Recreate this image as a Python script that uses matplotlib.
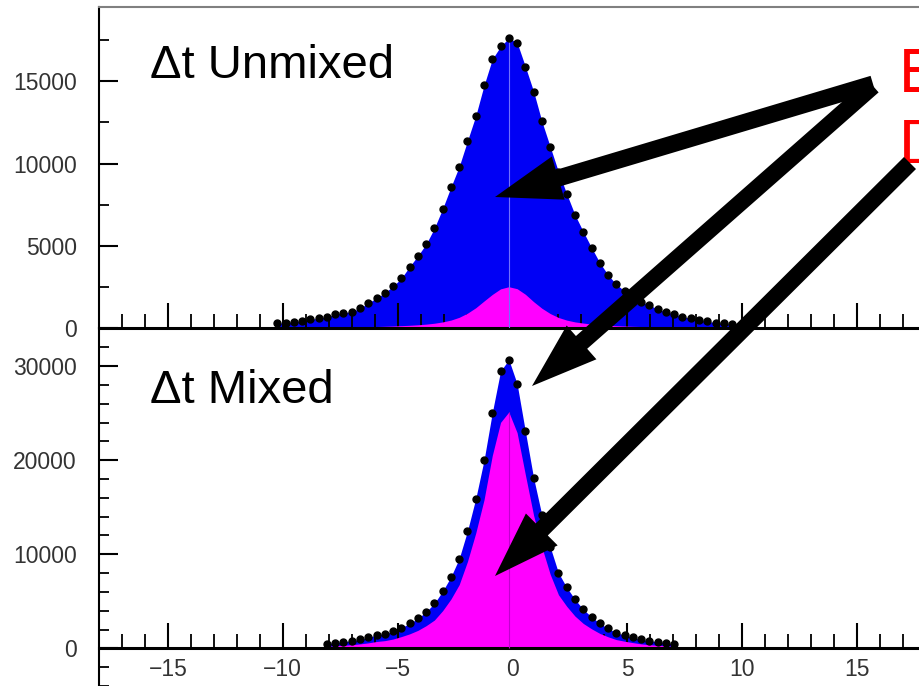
import numpy as np
import matplotlib
matplotlib.use("Agg")
import matplotlib.pyplot as plt
from matplotlib.ticker import MultipleLocator, FixedLocator
from matplotlib.patches import FancyArrow

plt.rcParams['font.family'] = ['Liberation Sans', 'DejaVu Sans']

# ---------------- data ----------------
# Delta t bin centres (ps) of the unmixed histogram
unmixed_dt = [-10.24, -9.88, -9.52, -9.16, -8.80, -8.44, -8.08, -7.72, -7.36, -7.00,
              -6.64, -6.28, -5.92, -5.56, -5.20, -4.84, -4.48, -4.12, -3.76, -3.40,
              -3.04, -2.68, -2.32, -1.96, -1.60, -1.24, -0.88, -0.52, -0.16, 0.20,
              0.56, 0.92, 1.28, 1.64, 2.00, 2.36, 2.72, 3.08, 3.44, 3.80,
              4.16, 4.52, 4.88, 5.24, 5.60, 5.96, 6.32, 6.68, 7.04, 7.40,
              7.76, 8.12, 8.48, 8.84, 9.20, 9.56]
unmixed_total = [290, 320, 380, 430, 530, 590, 690, 830, 930, 990,
                 1200, 1520, 1820, 2140, 2540, 3020, 3730, 4390, 5100, 6070,
                 7260, 8570, 9820, 11380, 12900, 14750, 16350, 17120, 17630, 17360,
                 15900, 14380, 12560, 11030, 9500, 8160, 6880, 5860, 4890, 3970,
                 3230, 2650, 2250, 1900, 1600, 1400, 1140, 990, 850, 690,
                 590, 480, 400, 330, 280, 230]
unmixed_comp = [20, 22, 25, 28, 32, 36, 40, 46, 52, 60,
                68, 78, 90, 105, 122, 142, 165, 195, 235, 290,
                370, 480, 650, 900, 1230, 1640, 2040, 2380, 2510, 2390,
                2050, 1600, 1200, 880, 640, 480, 370, 300, 240, 200,
                165, 140, 120, 103, 90, 78, 68, 60, 52, 46,
                40, 36, 32, 28, 25, 22]

# Delta t bin centres (ps) of the mixed histogram
mixed_dt = [-8.08, -7.72, -7.36, -7.00, -6.64, -6.28, -5.92, -5.56, -5.20, -4.84,
            -4.48, -4.12, -3.76, -3.40, -3.04, -2.68, -2.32, -1.96, -1.60, -1.24,
            -0.88, -0.52, -0.16, 0.20, 0.56, 0.92, 1.28, 1.64, 2.00, 2.36,
            2.72, 3.08, 3.44, 3.80, 4.16, 4.52, 4.88, 5.24, 5.60, 5.96,
            6.32, 6.68, 7.04]
mixed_total = [460, 600, 700, 810, 950, 1170, 1410, 1550, 1800, 2190,
               2650, 3180, 3890, 4780, 6080, 7600, 9550, 12480, 15920, 19990,
               25050, 29470, 30680, 28130, 23070, 18110, 14150, 10790, 8030, 6480,
               5200, 4140, 3350, 2650, 2120, 1660, 1410, 1170, 950, 810,
               700, 590, 460]
mixed_comp = [210, 275, 330, 390, 475, 585, 730, 820, 990, 1250,
              1540, 1910, 2410, 3010, 4010, 5240, 6780, 9240, 12260, 15790,
              20500, 24020, 25120, 22930, 18460, 14130, 10750, 7880, 5700, 4470,
              3430, 2650, 2080, 1590, 1230, 930, 760, 610, 475, 390,
              330, 270, 210]

panel_labels = ["\u0394t Unmixed", "\u0394t Mixed"]
red_labels = ["E", "D"]

# ---------------- figure ----------------
W, H = 920, 686
fig = plt.figure(figsize=(W / 100, H / 100), dpi=100)

def fx(px):
    return px / W

def fy(py):
    return 1 - py / H

ax1 = fig.add_axes([fx(99), fy(328), (926 - 99) / W, (328 - 7) / H])
ax2 = fig.add_axes([fx(99), 0, (926 - 99) / W, (H - 328) / H])

BLUE = '#0000f5'
MAG = '#ff00ff'
tick_color = '#333333'

def style(ax, show_xlabels):
    ax.set_xlim(-18, 18)
    ax.xaxis.set_major_locator(MultipleLocator(5))
    ax.xaxis.set_minor_locator(MultipleLocator(1))
    ax.tick_params(axis='x', which='major', direction='in', length=18, width=1.5,
                   pad=7, labelsize=16.5, labelcolor=tick_color, top=False,
                   labelbottom=show_xlabels)
    ax.tick_params(axis='x', which='minor', direction='in', length=10, width=1.3, top=False)
    ax.tick_params(axis='y', which='major', direction='in', length=14, width=1.5,
                   pad=16, labelsize=16.5, labelcolor=tick_color, right=False)
    ax.tick_params(axis='y', which='minor', direction='in', length=7, width=1.3, right=False)
    ax.spines['right'].set_visible(False)
    ax.spines['left'].set_linewidth(1.5)
    ax.spines['bottom'].set_linewidth(2.2)
    ax.patch.set_alpha(0)

# top panel: unmixed
ax1.fill_between(unmixed_dt, 0, unmixed_total, color=BLUE, lw=0, zorder=1)
ax1.fill_between(unmixed_dt, 0, unmixed_comp, color=MAG, lw=0, zorder=2)
ip = int(np.argmax(unmixed_total))
ax1.vlines(unmixed_dt[ip], 0, unmixed_total[ip], color='#7070ff', lw=0.8, zorder=3)
ax1.plot(unmixed_dt, unmixed_total, 'o', color='black', ms=5, zorder=4)
ax1.set_ylim(0, 19520)
ax1.yaxis.set_major_locator(MultipleLocator(5000))
ax1.yaxis.set_minor_locator(MultipleLocator(2500))
style(ax1, False)
ax1.spines['top'].set_color('#808080')
ax1.spines['top'].set_linewidth(1.5)

# bottom panel: mixed
ax2.fill_between(mixed_dt, 0, mixed_total, color=BLUE, lw=0, zorder=1)
ax2.fill_between(mixed_dt, 0, mixed_comp, color=MAG, lw=0, zorder=2)
ip = int(np.argmax(mixed_total))
ax2.vlines(mixed_dt[ip], 0, mixed_comp[ip], color='#c000d0', lw=0.8, zorder=3)
ax2.plot(mixed_dt, mixed_total, 'o', color='black', ms=5, zorder=4)
ax2.set_ylim(-4000, 34050)
ax2.yaxis.set_major_locator(FixedLocator([0, 10000, 20000, 30000]))
ax2.yaxis.set_minor_locator(MultipleLocator(2000))
style(ax2, True)
ax2.spines['top'].set_visible(False)
ax2.spines['bottom'].set_position(('data', 0))

# panel labels
fig.text(fx(150), fy(78), panel_labels[0], fontsize=34, va='baseline', ha='left')
fig.text(fx(150), fy(403), panel_labels[1], fontsize=34, va='baseline', ha='left')

# red annotation (cropped at the right edge, as in the reference)
fig.text(fx(899), fy(92), red_labels[0], fontsize=45, color='#ff0000', va='baseline', ha='left')
fig.text(fx(899), fy(163), red_labels[1], fontsize=45, color='#ff0000', va='baseline', ha='left')

# thick black arrows (pixel coordinates converted to inches)
def arrow(x0, y0, x1, y1):
    a = FancyArrow(x0 / 100, (H - y0) / 100, (x1 - x0) / 100, -(y1 - y0) / 100,
                   width=0.17, head_width=0.45, head_length=0.66,
                   length_includes_head=True, color='black', lw=0,
                   transform=fig.dpi_scale_trans, clip_on=False, zorder=10)
    fig.add_artist(a)

arrow(873, 84, 495, 197)
arrow(873, 86, 532, 386)
arrow(910, 163, 495, 576)

fig.savefig("out.png", dpi=100)
